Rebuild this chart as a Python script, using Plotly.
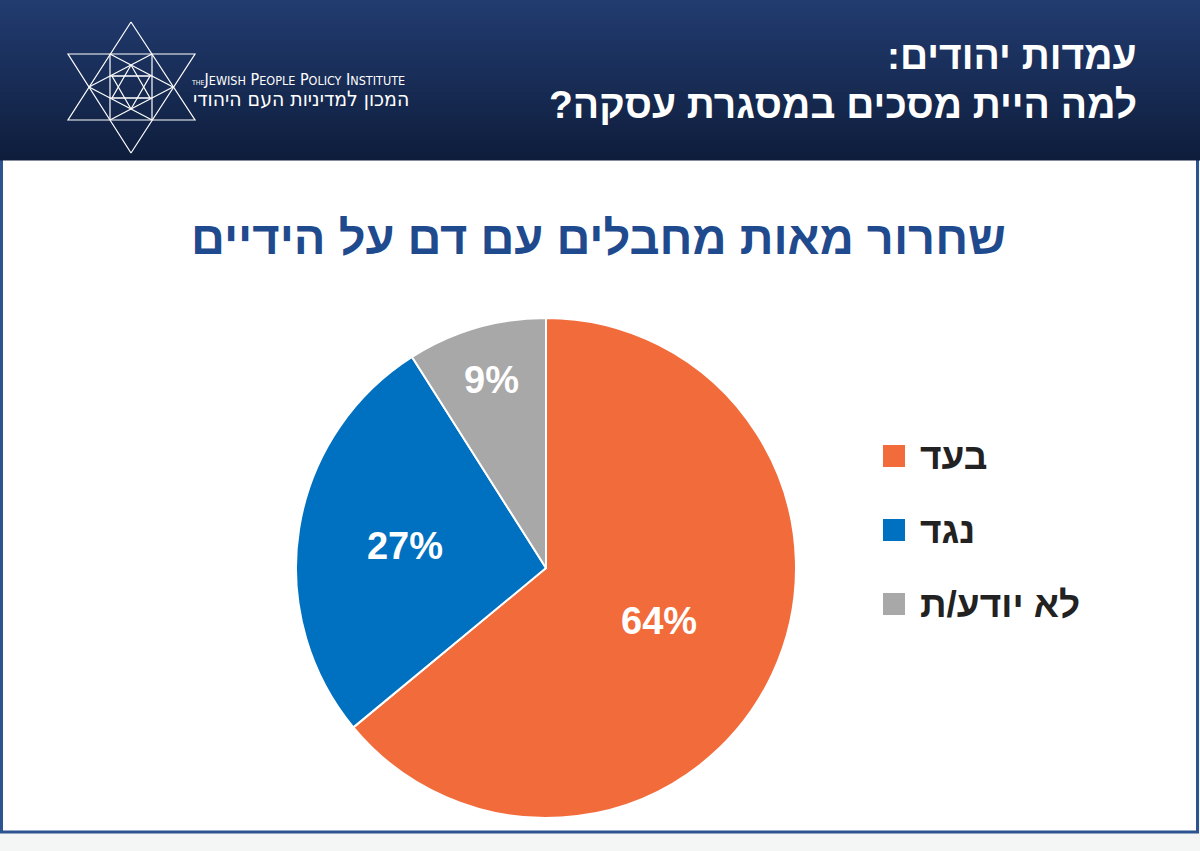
import plotly.graph_objects as go

# ---- data ----
labels = ["בעד", "נגד", "לא יודע/ת"]
values = [64, 27, 9]
colors = ["#F26B3A", "#0070C0", "#A8A8A8"]
chart_title = "שחרור מאות מחבלים עם דם על הידיים"
header_line1 = "עמדות יהודים:\u200f"
header_line2 = "למה היית מסכים במסגרת עסקה?\u200f"
logo_he = "המכון למדיניות העם היהודי"

W, H = 1200, 851
FONT = "Liberation Sans, DejaVu Sans, Arial, sans-serif"


def X(px):
    return px / W


def Y(py):
    return 1 - py / H


def hexcol(c):
    return tuple(int(c[i:i + 2], 16) for i in (1, 3, 5))


shapes = []
annotations = []

# white card with blue frame
shapes.append(dict(type="rect", xref="paper", yref="paper",
                   x0=X(1.5), x1=X(1197.5), y0=Y(832), y1=Y(150),
                   fillcolor="white", line=dict(color="#2C5490", width=3), layer="below"))

# header gradient
top = hexcol("#223C70")
bot = hexcol("#0E1D3C")
n = 40
hh = 160
for i in range(n):
    t = i / (n - 1)
    c = tuple(round(top[k] + (bot[k] - top[k]) * t) for k in range(3))
    shapes.append(dict(type="rect", xref="paper", yref="paper",
                       x0=0, x1=1, y0=Y(hh * (i + 1) / n + 0.5), y1=Y(hh * i / n),
                       fillcolor="rgb(%d,%d,%d)" % c, line=dict(width=0), layer="below"))

# logo (decorative star)
segs = [
    [(131, 22), (68, 120), (195, 120), (131, 22)],
    [(131, 153), (68, 54), (195, 54), (131, 153)],
    [(110, 54), (110, 120)],
    [(152, 54), (152, 120)],
    [(89, 87), (152, 54)], [(89, 87), (152, 120)],
    [(173, 87), (110, 54)], [(173, 87), (110, 120)],
    [(131, 65), (112, 98), (150, 98), (131, 65)],
    [(131, 109), (112, 76), (150, 76), (131, 109)],
    [(110, 76), (152, 76)], [(110, 98), (152, 98)],
]
for s in segs:
    path = "M " + " L ".join("%f,%f" % (X(p[0]), Y(p[1])) for p in s)
    shapes.append(dict(type="path", xref="paper", yref="paper", path=path,
                       line=dict(color="white", width=1.2)))

annotations.append(dict(
    x=X(189), y=Y(79), xref="paper", yref="paper", xanchor="left", yanchor="middle",
    text="<span style='font-size:7px'>THE</span>J<span style='font-size:12.5px'>EWISH</span> "
         "P<span style='font-size:12.5px'>EOPLE</span> P<span style='font-size:12.5px'>OLICY</span> "
         "I<span style='font-size:12.5px'>NSTITUTE</span>",
    showarrow=False, font=dict(family="DejaVu Sans Condensed, " + FONT, size=16, color="white")))
annotations.append(dict(
    x=X(411), y=Y(99), xref="paper", yref="paper", xanchor="right", yanchor="middle",
    text=logo_he, showarrow=False,
    font=dict(family="DejaVu Sans Condensed, " + FONT, size=21, color="white")))

# header title
annotations.append(dict(
    x=X(1139), y=Y(56), xref="paper", yref="paper", xanchor="right", yanchor="middle",
    text="<b>" + header_line1 + "</b>", showarrow=False,
    font=dict(family=FONT, size=39, color="white")))
annotations.append(dict(
    x=X(1139), y=Y(105), xref="paper", yref="paper", xanchor="right", yanchor="middle",
    text="<b>" + header_line2 + "</b>", showarrow=False,
    font=dict(family=FONT, size=39, color="white")))

# chart title
annotations.append(dict(
    x=X(598), y=Y(237), xref="paper", yref="paper", xanchor="center", yanchor="middle",
    text="<b>" + chart_title + "</b>", showarrow=False,
    font=dict(family=FONT, size=47, color="#1F4A8E")))

# custom legend
for i, (lab, col) in enumerate(zip(labels, colors)):
    cy = 456 + 74 * i
    shapes.append(dict(type="rect", xref="paper", yref="paper",
                       x0=X(883), x1=X(905), y0=Y(cy + 11), y1=Y(cy - 11),
                       fillcolor=col, line=dict(width=0)))
    annotations.append(dict(
        x=X(918), y=Y(cy), xref="paper", yref="paper", xanchor="left", yanchor="middle",
        text="<b>" + lab + "</b>", showarrow=False,
        font=dict(family=FONT, size=37, color="#222222")))

fig = go.Figure(go.Pie(
    labels=labels, values=values, sort=False, direction="clockwise", rotation=0,
    marker=dict(colors=colors, line=dict(color="white", width=2)),
    texttemplate="<b>%{value}%</b>", textposition="inside",
    insidetextorientation="horizontal",
    textfont=dict(family=FONT, size=38, color="white"),
    hoverinfo="label+percent", showlegend=False,
    domain=dict(x=[X(296), X(796)], y=[Y(818), Y(318)]),
))

fig.update_layout(
    width=W, height=H, margin=dict(l=0, r=0, t=0, b=0),
    paper_bgcolor="#F4F5F5", plot_bgcolor="#F4F5F5",
    shapes=shapes, annotations=annotations, showlegend=False,
)

fig.write_html("out.html")
